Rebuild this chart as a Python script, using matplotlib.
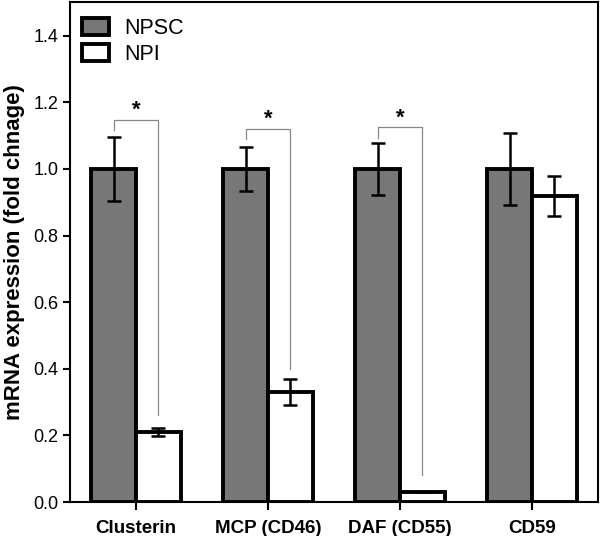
import numpy as np
import matplotlib.pyplot as plt
from matplotlib.patches import Patch

genes = ["Clusterin", "MCP (CD46)", "DAF (CD55)", "CD59"]
npsc_mean = [1.0, 1.0, 1.0, 1.0]
npsc_err = [0.095, 0.067, 0.077, 0.108]
npi_mean = [0.21, 0.33, 0.03, 0.92]
npi_err = [0.012, 0.04, 0.0, 0.06]

# significance brackets: (gene index, top height, left leg end, right leg end)
sig_idx = [0, 1, 2]
sig_top = [1.148, 1.121, 1.126]
sig_left = [1.116, 1.091, 1.093]
sig_right = [0.261, 0.398, 0.081]

plt.rcParams['font.family'] = ['Liberation Sans', 'DejaVu Sans']

fig = plt.figure(figsize=(6.0, 5.36), dpi=100)
ax = fig.add_axes([0.1167, 0.0634, 0.88, 0.932])

x = np.arange(len(genes))
w = 0.34
bar_lw = 2.8

ax.bar(x - w / 2, npsc_mean, width=w, color="#777777", edgecolor="black",
       linewidth=bar_lw, zorder=2)
ax.bar(x + w / 2, npi_mean, width=w, color="white", edgecolor="black",
       linewidth=bar_lw, zorder=2)

ax.errorbar(x - w / 2, npsc_mean, yerr=npsc_err, fmt="none", ecolor="black",
            elinewidth=1.8, capsize=5, capthick=1.8, zorder=3)
ax.errorbar(x + w / 2, npi_mean, yerr=npi_err, fmt="none", ecolor="black",
            elinewidth=1.8, capsize=5, capthick=1.8, zorder=3)

for i, top, left, right in zip(sig_idx, sig_top, sig_left, sig_right):
    xl = x[i] - w / 2
    xr = x[i] + w / 2
    ax.plot([xl, xl, xr, xr], [left, top, top, right], color="#888888",
            linewidth=0.9, zorder=1)
    ax.text(x[i], top + 0.027, "*", ha="center", va="center",
            fontsize=16, fontweight="bold")

ax.set_xlim(-0.5, 3.5)
ax.set_ylim(0, 1.5)
ax.set_yticks(np.arange(0, 1.41, 0.2))
ax.set_yticklabels([f"{v:.1f}" for v in np.arange(0, 1.41, 0.2)], fontsize=13)
ax.set_xticks(x)
ax.set_xticklabels(genes, fontsize=13.5, fontweight="bold")
ax.tick_params(axis="both", direction="out", width=1.5, length=5, color="black")
ax.tick_params(axis="x", length=6, pad=7)
ax.set_ylabel("mRNA expression (fold chnage)", fontsize=16, fontweight="bold",
              labelpad=6)

for s in ax.spines.values():
    s.set_linewidth(1.5)

handles = [Patch(facecolor="#777777", edgecolor="black", linewidth=bar_lw, label="NPSC"),
           Patch(facecolor="white", edgecolor="black", linewidth=bar_lw, label="NPI")]
ax.legend(handles=handles, loc="upper left", frameon=False, fontsize=15.5,
          handlelength=1.25, handleheight=0.8, handletextpad=0.7,
          labelspacing=0.25, borderaxespad=0.0, borderpad=0.55,
          bbox_to_anchor=(0.0, 0.993))

fig.savefig("out.png", dpi=100)
